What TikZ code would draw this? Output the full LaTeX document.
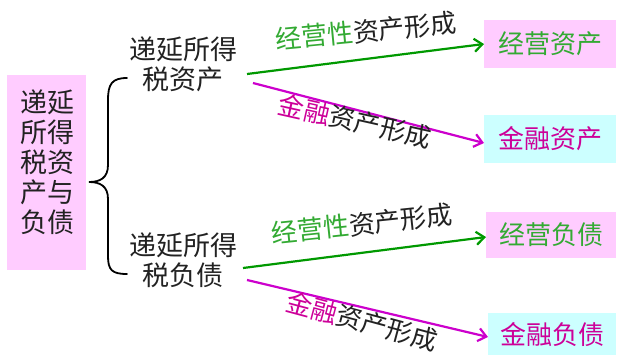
\documentclass[tikz,border=0pt]{standalone}
\usepackage{fontspec}
\setmainfont{Noto Sans CJK SC}
\usetikzlibrary{arrows.meta}
\definecolor{pinkbox}{HTML}{FFCCFF}
\definecolor{cyanbox}{HTML}{CCFFFF}
\definecolor{grn}{HTML}{009900}
\definecolor{grntxt}{HTML}{33AA33}
\definecolor{mag}{HTML}{CC00CC}
\definecolor{magtxt}{HTML}{CC0099}
\definecolor{txt}{HTML}{222222}
\tikzset{
  box/.style={inner sep=0pt, outer sep=0pt, text=txt},
  mid/.style={align=center, font=\fontsize{27}{30}\selectfont, text=txt, inner sep=0pt},
  lab/.style={font=\fontsize{26}{28}\selectfont, text=txt, inner sep=0pt},
  rbox/.style={box, anchor=west, font=\fontsize{26}{28}\selectfont},
  garrow/.style={draw=grn, line width=2.2pt, -{Straight Barb[length=8pt,width=13pt]}},
  marrow/.style={draw=mag, line width=2.2pt, -{Straight Barb[length=8pt,width=13pt]}},
}
\begin{document}
\begin{tikzpicture}[x=1pt,y=-1pt]
\useasboundingbox (0,0) rectangle (619,354);
% left box
\fill[pinkbox] (7,75) rectangle (86,270);
\node[box, align=center, font=\fontsize{27}{30}\selectfont] (L) at (47,162) {递延\\所得\\税资\\产与\\负债};
% brace
\draw[line width=1.8pt, line cap=round] (127,78) .. controls (112,78) and (108,84) .. (108,100)
  -- (108,165) .. controls (108,178) and (100,182) .. (89,182)
  .. controls (100,182) and (108,186) .. (108,199)
  -- (108,256) .. controls (108,270) and (112,274) .. (127,274);
% middle nodes
\node[mid] (A) at (183,64) {递延所得\\税资产};
\node[mid] (D) at (183,260) {递延所得\\税负债};
% right boxes
\node[rbox, fill=pinkbox, minimum width=132pt, minimum height=48pt, text=grntxt] (OA) at (484,44) {经营资产};
\node[rbox, fill=cyanbox, minimum width=132pt, minimum height=48pt, text=magtxt] (FA) at (484,139) {金融资产};
\node[rbox, fill=pinkbox, minimum width=130pt, minimum height=46pt, text=grntxt] (OL) at (486,235) {经营负债};
\node[rbox, fill=cyanbox, minimum width=128pt, minimum height=42pt, text=magtxt] (FL) at (488,334) {金融负债};
% arrow starts
\coordinate (a1) at (247,74);
\coordinate (a2) at (253,83);
\coordinate (d1) at (243,268);
\coordinate (d2) at (247,280);
\draw[garrow] (a1) -- (OA.west);
\draw[marrow] (a2) -- (FA.west |- 0,143);
\draw[garrow] (d1) -- (OL.west |- 0,237);
\draw[marrow] (d2) -- (FL.west |- 0,337);
% labels
\node[lab, rotate=5.5] (t1) at (366,31) {\textcolor{grntxt}{经营性}资产形成};
\node[lab, rotate=-12.6] (t2) at (355,121) {\textcolor{magtxt}{金融}资产形成};
\node[lab, rotate=6] (t3) at (362,224) {\textcolor{grntxt}{经营性}资产形成};
\node[lab, rotate=-15] (t4) at (362,321) {\textcolor{magtxt}{金融}资产形成};
\end{tikzpicture}
\end{document}
